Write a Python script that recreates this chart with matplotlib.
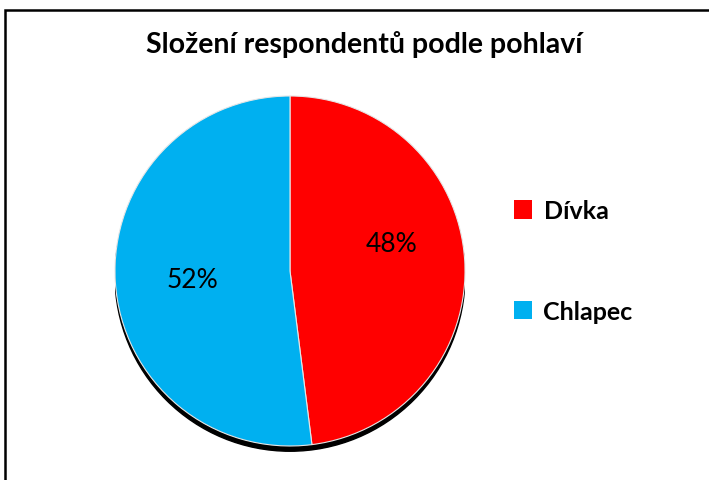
import matplotlib
matplotlib.use("Agg")
from matplotlib import pyplot as plt
from matplotlib.patches import Circle, Rectangle, Patch

# Chart data
categories = ['Dívka', 'Chlapec']
shares = [48, 52]
colors = ['#FF0000', '#00B0F0']
title = 'Složení respondentů podle pohlaví'

plt.rcParams['font.family'] = ['Lato', 'DejaVu Sans']

fig = plt.figure(figsize=(7.09, 4.81), dpi=100)

# outer chart frame (cut off at right and bottom like the original)
fig.patches.append(Rectangle((5 / 709, -0.05), 1.0, 1 - 11 / 481 + 0.05,
                             transform=fig.transFigure, fill=False,
                             edgecolor='black', linewidth=1.8))

fig.text(364 / 709, 1 - 45 / 481, title, ha='center', va='center',
         fontsize=20.5, fontweight='bold')

ax = fig.add_axes([115 / 709, 27 / 481, 350 / 709, 357 / 481])
ax.add_patch(Circle((0, -0.03), 1.0, color='black', zorder=0))
wedges, texts, autotexts = ax.pie(shares, colors=colors, startangle=90,
                                  counterclock=False, autopct='%1.0f%%',
                                  pctdistance=0.6,
                                  wedgeprops=dict(edgecolor='#E6E6E6', linewidth=0.8),
                                  textprops=dict(fontsize=19))
# label placement as in the original
autotexts[0].set_position((0.58, 0.155))
autotexts[1].set_position((-0.555, -0.05))
ax.set_xlim(-1, 1)
ax.set_ylim(-1.04, 1)
ax.set_aspect('auto')
ax.axis('off')

handles = [Patch(facecolor=c, edgecolor='none') for c in colors]
fig.legend(handles, categories, loc='center left',
           bbox_to_anchor=(491 / 709, 1 - 262 / 481), frameon=False,
           prop=dict(size=18, weight='bold'), handlelength=0.75,
           handleheight=0.75, handletextpad=0.45, labelspacing=3.1)

fig.savefig('out.png', dpi=100)
